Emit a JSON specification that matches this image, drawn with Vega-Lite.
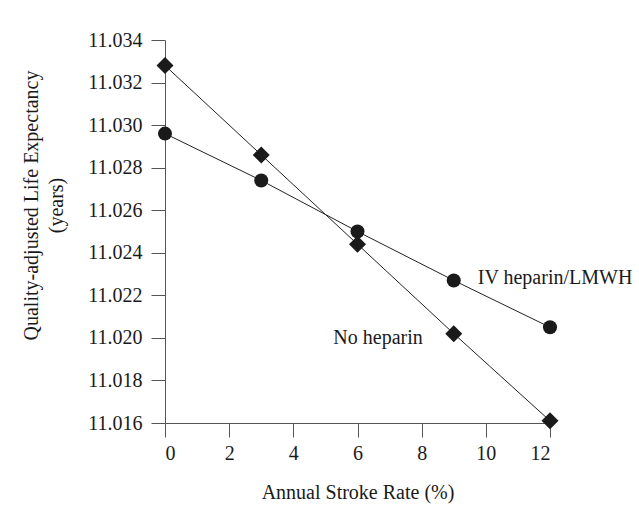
{
  "$schema": "https://vega.github.io/schema/vega-lite/v6.json",
  "width": 385,
  "height": 383,
  "autosize": {"type": "none"},
  "padding": {"left": 165, "top": 40, "right": 89, "bottom": 98},
  "background": "white",
  "config": {
    "view": {"stroke": null},
    "font": "Liberation Serif",
    "axis": {
      "labelFont": "Liberation Serif",
      "titleFont": "Liberation Serif",
      "labelFontSize": 20,
      "titleFontSize": 20,
      "titleFontWeight": "normal",
      "labelColor": "#1a1a1a",
      "titleColor": "#1a1a1a",
      "domainColor": "#555",
      "tickColor": "#555",
      "tickSize": 14,
      "grid": false
    }
  },
  "data": {
    "values": [
      {"rate": 0, "qale": 11.0296, "strategy": "IV heparin/LMWH"},
      {"rate": 3, "qale": 11.0274, "strategy": "IV heparin/LMWH"},
      {"rate": 6, "qale": 11.0250, "strategy": "IV heparin/LMWH"},
      {"rate": 9, "qale": 11.0227, "strategy": "IV heparin/LMWH"},
      {"rate": 12, "qale": 11.0205, "strategy": "IV heparin/LMWH"},
      {"rate": 0, "qale": 11.0328, "strategy": "No heparin"},
      {"rate": 3, "qale": 11.0286, "strategy": "No heparin"},
      {"rate": 6, "qale": 11.0244, "strategy": "No heparin"},
      {"rate": 9, "qale": 11.0202, "strategy": "No heparin"},
      {"rate": 12, "qale": 11.0161, "strategy": "No heparin"}
    ]
  },
  "encoding": {
    "x": {
      "field": "rate", "type": "quantitative",
      "scale": {"domain": [0, 12], "nice": false},
      "axis": {
        "title": "Annual Stroke Rate (%)",
        "values": [0, 2, 4, 6, 8, 10, 12],
        "labelPadding": 6,
        "titleY": 69,
        "titleBaseline": "middle"
      }
    },
    "y": {
      "field": "qale", "type": "quantitative",
      "scale": {"domain": [11.016, 11.034], "nice": false, "zero": false},
      "axis": {
        "title": ["Quality-adjusted Life Expectancy", "(years)"],
        "values": [11.016, 11.018, 11.02, 11.022, 11.024, 11.026, 11.028, 11.03, 11.032, 11.034],
        "format": ".3f",
        "labelPadding": 9,
        "titleX": -134,
        "titleY": 165,
        "titleBaseline": "middle",
        "titleLineHeight": 25
      }
    }
  },
  "layer": [
    {
      "mark": {"type": "line", "color": "#222", "strokeWidth": 1},
      "encoding": {"detail": {"field": "strategy"}}
    },
    {
      "transform": [{"filter": "datum.strategy === 'IV heparin/LMWH'"}],
      "mark": {"type": "point", "shape": "circle", "filled": true, "color": "#1a1a1a", "size": 196, "opacity": 1}
    },
    {
      "transform": [{"filter": "datum.strategy === 'No heparin'"}],
      "mark": {"type": "point", "shape": "diamond", "filled": true, "color": "#1a1a1a", "size": 289, "opacity": 1}
    },
    {
      "transform": [{"filter": "datum.rate === 9 && datum.strategy === 'IV heparin/LMWH'"}],
      "mark": {"type": "text", "font": "Liberation Serif", "fontSize": 20, "color": "#1a1a1a", "baseline": "middle", "align": "left", "dx": 24, "dy": -2},
      "encoding": {"text": {"field": "strategy"}}
    },
    {
      "transform": [{"filter": "datum.rate === 9 && datum.strategy === 'No heparin'"}],
      "mark": {"type": "text", "font": "Liberation Serif", "fontSize": 20, "color": "#1a1a1a", "baseline": "middle", "align": "right", "dx": -31, "dy": 4},
      "encoding": {"text": {"field": "strategy"}}
    }
  ]
}
